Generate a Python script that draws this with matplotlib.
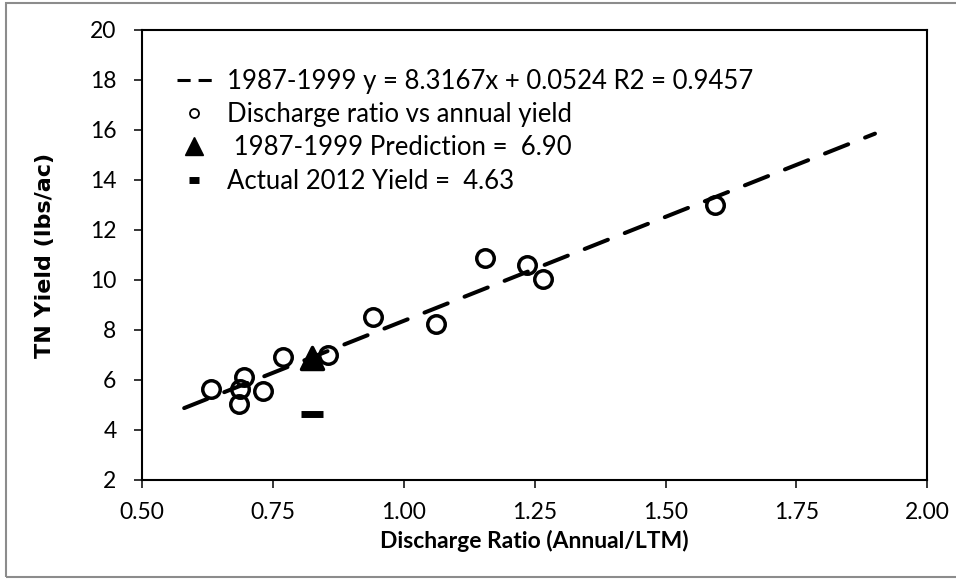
import matplotlib
matplotlib.use("Agg")
import matplotlib.pyplot as plt
from matplotlib.lines import Line2D
from matplotlib.markers import MarkerStyle
from matplotlib.patches import Rectangle

plt.rcParams['font.family'] = ['Lato', 'DejaVu Sans']

# observed discharge ratio vs annual TN yield
DISCHARGE_RATIO = [0.631, 0.687, 0.694, 0.685, 0.731, 0.768, 0.854,
                   0.941, 1.061, 1.155, 1.235, 1.266, 1.594]
TN_YIELD = [5.63, 5.63, 6.13, 5.04, 5.55, 6.93, 7.00,
            8.52, 8.24, 10.88, 10.60, 10.04, 13.00]

# 1987-1999 regression
SLOPE, INTERCEPT = 8.3167, 0.0524
TREND_X = [0.58, 1.90]

PRED_X, PRED_Y = [0.8234], [6.90]
ACTUAL_X, ACTUAL_Y = [0.8234], [4.63]

LABELS = ["1987-1999 y = 8.3167x + 0.0524 R2 = 0.9457",
          "Discharge ratio vs annual yield",
          " 1987-1999 Prediction =  6.90",
          "Actual 2012 Yield =  4.63"]

XTICKS = [0.50, 0.75, 1.00, 1.25, 1.50, 1.75, 2.00]
YTICKS = [2, 4, 6, 8, 10, 12, 14, 16, 18, 20]

W, H = 956, 580
fig = plt.figure(figsize=(W / 100, H / 100), dpi=100)
ax = fig.add_axes([142.3 / W, 100 / H, 785 / W, 450 / H])

# trend line
trend_y = [SLOPE * x + INTERCEPT for x in TREND_X]
ax.plot(TREND_X, trend_y, color='black', lw=2.9, dashes=(6.2, 4.5),
        dash_capstyle='round', zorder=2)

ax.plot(DISCHARGE_RATIO, TN_YIELD, ls='none', marker='o', ms=12.6,
        mfc='none', mec='black', mew=2.5, zorder=3)
ax.plot(PRED_X, PRED_Y, ls='none',
        marker=MarkerStyle('^', joinstyle='round'), ms=16,
        color='black', mew=2.5, zorder=4)
ax.plot(ACTUAL_X, ACTUAL_Y, ls='none', marker='_', ms=16.5, mew=5,
        color='black', zorder=4)

ax.set_xlim(0.5, 2.0)
ax.set_ylim(2, 20)
ax.set_xticks(XTICKS)
ax.set_xticklabels([f"{v:.2f}" for v in XTICKS])
ax.set_yticks(YTICKS)
ax.tick_params(direction='out', length=6, width=1.1, labelsize=16.5,
               color='black')
ax.tick_params(axis='y', pad=12.5)
ax.tick_params(axis='x', pad=10)
for s in ax.spines.values():
    s.set_linewidth(1.5)
    s.set_color('black')

ax.set_xlabel("Discharge Ratio (Annual/LTM)", fontsize=16.5,
              fontweight='bold', va='center')
ax.xaxis.set_label_coords(0.5, -0.1356)
ax.set_ylabel("TN Yield (lbs/ac)", fontsize=16, fontweight='bold',
              family='DejaVu Sans', va='center')
ax.yaxis.set_label_coords(-0.1235, 0.498)

# legend with small markers, like the spreadsheet legend
handles = [
    Line2D([], [], color='black', lw=2.2, dashes=(4.3, 2.6)),
    Line2D([], [], ls='none', marker='o', ms=6.5, mfc='none', mec='black',
           mew=1.3),
    Line2D([], [], ls='none', marker='^', ms=13.5, color='black'),
    Line2D([], [], ls='none', marker='_', ms=7, mew=5, color='black'),
]
ax.legend(handles, LABELS, loc='upper left', bbox_to_anchor=(0.044, 0.9144),
          frameon=False, fontsize=18.5, handlelength=1.36,
          handletextpad=0.58, labelspacing=0.33, borderpad=0,
          borderaxespad=0)

# grey outer frame
fig.patches.append(Rectangle((6 / W, 3 / H), 960 / W, 574 / H,
                             transform=fig.transFigure, fill=False,
                             edgecolor='#8c8c8c', lw=1.5))

fig.savefig("out.png", dpi=100, facecolor='white')
